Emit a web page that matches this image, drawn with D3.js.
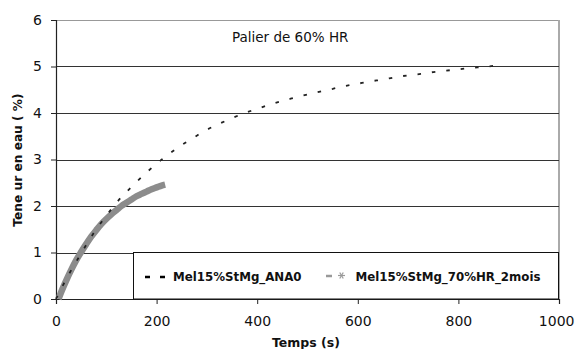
<!DOCTYPE html>
<html><head><meta charset="utf-8">
<script src="https://cdn.jsdelivr.net/npm/d3@7"></script>
<style>body{margin:0;background:#fff}svg{display:block}text{font-family:"DejaVu Sans",Verdana,sans-serif}</style>
</head><body><svg id="c" width="575" height="349"></svg>
<script>
const xTicks = [0, 200, 400, 600, 800, 1000];
const yTicks = [0, 1, 2, 3, 4, 5, 6];
const seriesNames = ["Mel15%StMg_ANA0", "Mel15%StMg_70%HR_2mois"];
const s1Time = [0,25,50,75,100,125,150,175,200,225,250,275,300,325,350,375,400,425,450,475,500,525,550,575,600,625,650,675,700,725,750,775,800,825,850,875,890];
const s1Value = [0,0.52,0.98,1.42,1.79,2.13,2.41,2.67,2.91,3.12,3.31,3.48,3.64,3.77,3.89,4.00,4.09,4.18,4.26,4.33,4.40,4.46,4.52,4.58,4.63,4.68,4.72,4.77,4.81,4.84,4.88,4.91,4.94,4.97,4.99,5.02,5.04];
const s2Time = [5,10,20,30,40,50,60,70,80,90,100,110,120,130,140,150,160,170,180,190,200,210,217];
const s2Value = [0,0.14,0.39,0.62,0.83,1.01,1.18,1.34,1.48,1.61,1.72,1.82,1.91,2.00,2.07,2.14,2.21,2.26,2.31,2.36,2.40,2.44,2.46];
const title = "Palier de 60% HR";
const xTitle = "Temps (s)";
const yTitle = "Tene ur en eau  ( %)";

const svg = d3.select("#c");
const x = d3.scaleLinear().domain([0,1000]).range([56,559]);
const y = d3.scaleLinear().domain([0,6]).range([299,20]);

svg.append("line").attr("x1",56).attr("x2",559).attr("y1",20.5).attr("y2",20.5).attr("stroke","#999");
svg.append("line").attr("x1",559).attr("x2",559).attr("y1",20).attr("y2",299).attr("stroke","#aaa").attr("stroke-width",2);

svg.append("g").selectAll("line").data(yTicks.filter(d=>d>0&&d<6)).join("line")
  .attr("x1",56).attr("x2",559).attr("y1",d=>Math.round(y(d))+0.5).attr("y2",d=>Math.round(y(d))+0.5)
  .attr("stroke","#333").attr("stroke-width",1);

const yAxis = svg.append("g").attr("transform","translate(56,0)")
  .call(d3.axisLeft(y).tickValues(yTicks).tickSize(5).tickPadding(9).tickFormat(d3.format("d")));
const xAxis = svg.append("g").attr("transform","translate(0,299)")
  .call(d3.axisBottom(x).tickValues(xTicks).tickSize(5).tickPadding(12).tickFormat(d3.format("d")));
[yAxis,xAxis].forEach(a=>{
  a.select(".domain").attr("stroke","#222").attr("stroke-width",1.2);
  a.selectAll(".tick line").attr("stroke","#222");
  a.selectAll("text").attr("font-size",14).attr("fill","#111").attr("font-family","DejaVu Sans, Verdana, sans-serif");
});
// keep the last x label inside the window
xAxis.selectAll(".tick text").filter(d=>d===1000).attr("text-anchor","end").attr("x",15);

const line = d3.line().x(d=>x(d[0])).y(d=>y(d[1])).curve(d3.curveMonotoneX);
const s2 = s2Time.map((t,i)=>[t,s2Value[i]]);
const s1 = s1Time.map((t,i)=>[t,s1Value[i]]);
svg.append("path").attr("d",line(s2)).attr("fill","none").attr("stroke","#8c8c8c").attr("stroke-width",6.5).attr("stroke-linecap","butt");

svg.append("path").attr("d",line(s1)).attr("fill","none").attr("stroke","#222").attr("stroke-width",1.8).attr("stroke-dasharray","3.5,11");

const lg = svg.append("g");
lg.append("rect").attr("x",133.5).attr("y",252.5).attr("width",425).attr("height",46.5).attr("fill","#fff").attr("stroke","#111");
lg.append("line").attr("x1",145).attr("x2",166).attr("y1",277).attr("y2",277).attr("stroke","#000").attr("stroke-width",2.5).attr("stroke-dasharray","5,10");
lg.append("text").attr("x",173).attr("y",281).attr("font-size",11.8).attr("font-weight","bold").attr("fill","#111").text(seriesNames[0]);
lg.append("line").attr("x1",326).attr("x2",332).attr("y1",276).attr("y2",276).attr("stroke","#999").attr("stroke-width",2.5);
const ast = lg.append("g").attr("transform","translate(341.5,275.5)").attr("stroke","#999").attr("stroke-width",1.2);
[0,60,120].forEach(a=>{const r=a*Math.PI/180;ast.append("line").attr("x1",-3.5*Math.cos(r)).attr("y1",-3.5*Math.sin(r)).attr("x2",3.5*Math.cos(r)).attr("y2",3.5*Math.sin(r));});
lg.append("text").attr("x",355.5).attr("y",281).attr("font-size",11.8).attr("font-weight","bold").attr("fill","#111").text(seriesNames[1]);

svg.append("text").attr("x",232).attr("y",42).attr("font-size",13.5).attr("fill","#111").text(title);
svg.append("text").attr("x",306).attr("y",347).attr("text-anchor","middle").attr("font-size",12.5).attr("font-weight","bold").attr("fill","#111").text(xTitle);
svg.append("text").attr("transform","translate(22,160) rotate(-90)").attr("text-anchor","middle").attr("font-size",12.2).attr("font-weight","bold").attr("fill","#111").text(yTitle);
</script></body></html>
